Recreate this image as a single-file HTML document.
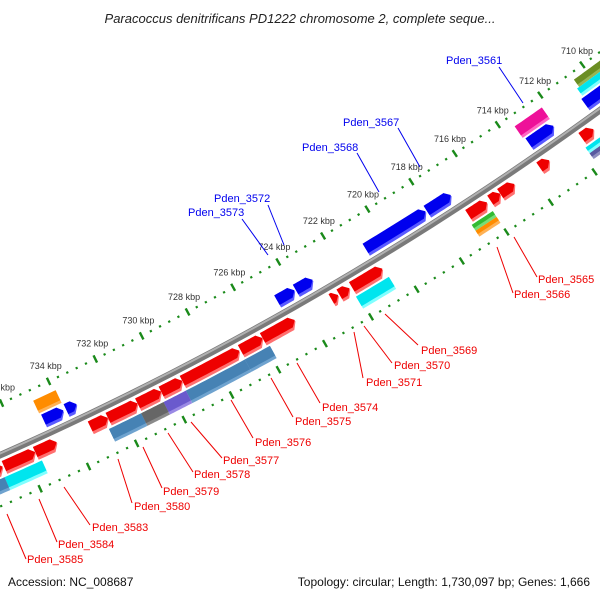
<!DOCTYPE html>
<html><head><meta charset="utf-8"><style>
html,body{margin:0;padding:0;background:#fff;}
svg{display:block;font-family:"Liberation Sans",sans-serif;}
</style></head><body>
<svg id="map" width="600" height="600" viewBox="0 0 600 600" xmlns="http://www.w3.org/2000/svg">
<rect width="600" height="600" fill="#fff"/>
<text x="300" y="23" text-anchor="middle" font-size="13" font-style="italic" fill="#222">Paracoccus denitrificans PD1222 chromosome 2, complete seque...</text>
<g id="ticks"></g>
<g id="backbone"></g>
<g id="genes"></g>
<g id="labels"></g>
<text x="8" y="586" font-size="12" fill="#111">Accession: NC_008687</text>
<text x="590" y="586" font-size="12" fill="#111" text-anchor="end">Topology: circular; Length: 1,730,097 bp; Genes: 1,666</text>
</svg>
<script>
// ---- data ----
const geneStart = [709.3,712.27,717.0,718.15,723.2,724.0,733.4,733.96,712.23,733.9,709.2,709.3,
  711.1,713.15,714.75,715.4,716.0,720.7,722.15,722.65,724.55,725.95,726.95,729.4,730.3,731.3,732.55,734.7,735.6,736.95,
  716.0,716.0,710.6,710.6,720.65,725.85,726.93,729.45,730.4,731.35,735.5,737.05];
const geneEnd = [710.8,713.42,718.1,720.85,723.95,724.77,733.85,734.8,713.5,734.85,710.6,710.7,
  711.65,713.6,715.4,715.85,716.85,722.05,722.6,722.95,725.95,726.9,729.4,730.3,731.3,732.55,733.3,735.6,736.9,737.8,
  716.95,716.95,711.75,711.75,722.1,726.93,729.45,730.4,731.35,732.7,737.05,738.5];
const geneTrack = ['f1','f1','f1','f1','f1','f1','f1','f1','f2','f2','f2a','f2b',
  'r1','r1','r1','r1','r1','r1','r1','r1','r1','r1','r1','r1','r1','r1','r1','r1','r1','r1',
  'r2a','r2b','r2a','r2b','r2','r2','r2','r2','r2','r2','r2','r2'];
const geneColor = ['blue','blue','blue','blue','blue','blue','blue','blue','magenta','orange','olive','cyan',
  'red','red','red','red','red','red','red','red','red','red','red','red','red','red','red','red','red','red',
  'green','orange','cyan','slate','cyan','steel','steel','purple','gray','steel','cyan','steel'];
const tickLabelKbp = [708,710,712,714,716,718,720,722,724,726,728,730,732,734,736];

// ---- geometry ----
const CX=-1333, CY=-2557, R=3294;
const A0=53.85, K=0.457, B0=710;
function ang(bp){return (A0+(bp-B0)*K)*Math.PI/180;}
function pt(r,bp){const a=ang(bp);return [CX+r*Math.cos(a),CY+r*Math.sin(a)];}
const NS='http://www.w3.org/2000/svg';
function mk(tag,attrs,parent){const e=document.createElementNS(NS,tag);for(const k in attrs)e.setAttribute(k,attrs[k]);parent.appendChild(e);return e;}
const pal={blue:['#0000ee','#5a5aff'],red:['#ee0000','#ff7070'],magenta:['#ee1199','#ff66c4'],orange:['#ff8c00','#ffb255'],
 olive:['#6b8e23','#95b555'],cyan:['#00e5ee','#80ffff'],green:['#33bb33','#77dd77'],slate:['#5a5aa0','#9090c0'],
 steel:['#4682b4','#6fa3cf'],purple:['#6a5acd','#9a8ae5'],gray:['#666666','#8a8a8a']};
const trackR={f1:[R-20,R-6],f2:[R-36,R-22],f2a:[R-40,R-31],f2b:[R-31,R-22],r1:[R+6,R+20],r2:[R+22,R+36],r2a:[R+22,R+29],r2b:[R+29,R+36]};

// ticks
const tg=document.getElementById('ticks');
[R-47,R+47].forEach((rr,ri)=>{
  for(let t=7060;t<=7400;t+=4){
    const bp=t/10;const major=(t%20===0);
    const p1=pt(rr-(major?4:1.1),bp),p2=pt(rr+(major?4:1.1),bp);
    const l=mk('line',{x1:p1[0],y1:p1[1],x2:p2[0],y2:p2[1],stroke:'#1a8a1a','stroke-width':major?2.4:2.2},tg);
    
    
  }
});
tickLabelKbp.forEach(k=>{
  const p=pt(R-63,k);
  const t=mk('text',{x:p[0]+4,y:p[1]+2,'text-anchor':'middle','font-size':'9',fill:'#333'},tg);
  t.textContent=k+' kbp';
  
  
});

// backbone
const bg=document.getElementById('backbone');
function arcPath(r,a,b){let d='';for(let i=0;i<=40;i++){const p=pt(r,a+(b-a)*i/40);d+=(i?'L':'M')+p[0].toFixed(2)+' '+p[1].toFixed(2);}return d;}
let bb=mk('path',{d:arcPath(R,706,741),stroke:'#7a7a7a','stroke-width':6.5,fill:'none'},bg);


let bh=mk('path',{d:arcPath(R-1.5,706,741),stroke:'#b0b0b0','stroke-width':2,fill:'none'},bg);



// genes
const gg=document.getElementById('genes');
function shape(s,e,r1,r2,head){
  const pts=[];const n=12;
  let h=head?Math.min(0.2,(e-s)):0;
  for(let i=0;i<=n;i++){pts.push(pt(r1,s+h+(e-s-h)*i/n));}
  for(let i=n;i>=0;i--){pts.push(pt(r2,s+h+(e-s-h)*i/n));}
  if(head){pts.push(pt((r1+r2)/2,s));}
  return pts.map(p=>p[0].toFixed(2)+','+p[1].toFixed(2)).join(' ');
}
for(let i=0;i<geneStart.length;i++){
  const tr=trackR[geneTrack[i]];const c=pal[geneColor[i]];
  const head=(geneTrack[i]==='f1'||geneTrack[i]==='r1');
  const g=mk('g',{},gg);
  
  
  mk('polygon',{points:shape(geneStart[i],geneEnd[i],tr[0],tr[1],head),fill:c[1]},g);
  mk('polygon',{points:shape(geneStart[i],geneEnd[i],tr[0],tr[1]-3,head),fill:c[0]},g);
}
</script>
<script>
const lg=document.getElementById('labels');
const L=[
 ['Pden_3561',446,60,499,67,523,103,'#0000ee'],
 ['Pden_3567',343,122,398,128,420,167,'#0000ee'],
 ['Pden_3568',302,147,357,153,379,192,'#0000ee'],
 ['Pden_3572',214,198,268,205,284,245,'#0000ee'],
 ['Pden_3573',188,212,242,219,268,255,'#0000ee'],
 ['Pden_3565',538,279,514,237,537,277,'#ee0000'],
 ['Pden_3566',514,294,497,247,513,293,'#ee0000'],
 ['Pden_3569',421,350,385,314,418,345,'#ee0000'],
 ['Pden_3570',394,365,364,326,392,363,'#ee0000'],
 ['Pden_3571',366,382,354,332,363,378,'#ee0000'],
 ['Pden_3574',322,407,297,363,320,403,'#ee0000'],
 ['Pden_3575',295,421,271,378,293,417,'#ee0000'],
 ['Pden_3576',255,442,231,400,253,438,'#ee0000'],
 ['Pden_3577',223,460,191,422,222,458,'#ee0000'],
 ['Pden_3578',194,474,168,433,193,472,'#ee0000'],
 ['Pden_3579',163,491,143,447,162,488,'#ee0000'],
 ['Pden_3580',134,506,118,459,132,503,'#ee0000'],
 ['Pden_3583',92,527,64,487,90,525,'#ee0000'],
 ['Pden_3584',58,544,39,499,57,542,'#ee0000'],
 ['Pden_3585',27,559,7,514,26,559,'#ee0000']
];
L.forEach(a=>{
  const NS='http://www.w3.org/2000/svg';
  const ln=document.createElementNS(NS,'line');
  ln.setAttribute('x1',a[3]);ln.setAttribute('y1',a[4]);ln.setAttribute('x2',a[5]);ln.setAttribute('y2',a[6]);
  ln.setAttribute('stroke',a[7]);ln.setAttribute('stroke-width','1');
  
  
  lg.appendChild(ln);
  const t=document.createElementNS(NS,'text');
  t.setAttribute('x',a[1]);t.setAttribute('y',a[2]+4);t.setAttribute('font-size','11');t.setAttribute('fill',a[7]);
  t.textContent=a[0];
  
  
  lg.appendChild(t);
});
</script>
</body></html>
